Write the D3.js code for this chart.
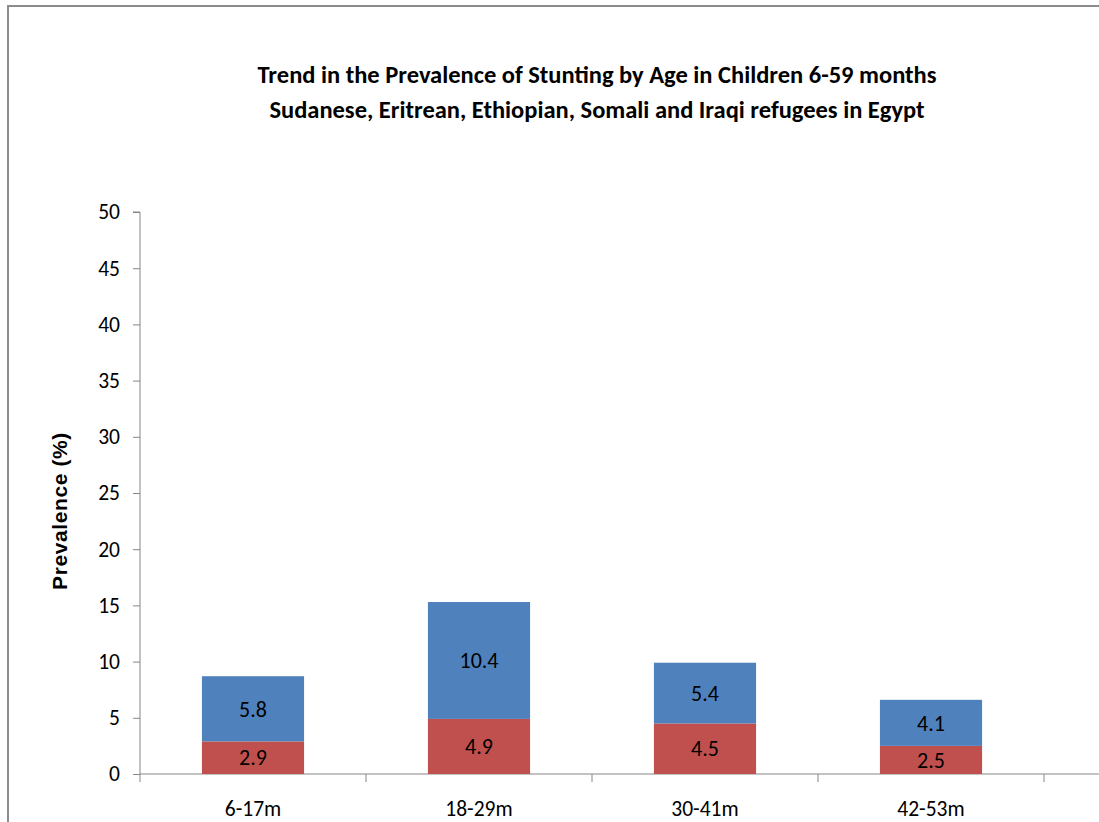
<!DOCTYPE html>
<html>
<head>
<meta charset="utf-8">
<script src="https://cdn.jsdelivr.net/npm/d3@7"></script>
<style>
  body { margin: 0; background: #fff; }
  svg { display: block; }
  text { font-family: Carlito, "Liberation Sans Narrow", "Open Sans", sans-serif; fill: #000; }
</style>
</head>
<body>
<div id="chart"></div>
<script>
// chart data
var categories = ['6-17m', '18-29m', '30-41m', '42-53m', '54-59m'];
var lowerValues = [2.9, 4.9, 4.5, 2.5];
var upperValues = [5.8, 10.4, 5.4, 4.1];
var yTicks = [0, 5, 10, 15, 20, 25, 30, 35, 40, 45, 50];
var titleLines = ['Trend in the Prevalence of Stunting by Age in Children 6-59 months',
  'Sudanese, Eritrean, Ethiopian, Somali and Iraqi refugees in Egypt'];

var width = 1099, height = 822;
var lowerColor = '#C0504D', upperColor = '#4F81BD', axisColor = '#868686';

var svg = d3.select('#chart').append('svg').attr('width', width).attr('height', height);

// outer chart border (cut off at the right and bottom)
svg.append('rect')
  .attr('x', 8).attr('y', 6)
  .attr('width', 1200).attr('height', 1000)
  .attr('fill', 'none')
  .attr('stroke', '#8c8c8c')
  .attr('stroke-width', 2);

var x = d3.scaleBand().domain(categories).range([140, 140 + 226 * categories.length]).paddingInner(0).paddingOuter(0);
var y = d3.scaleLinear().domain([0, 50]).range([774, 212]);
var barW = x.bandwidth() * 0.452;

// title
svg.selectAll('.title').data(titleLines).enter().append('text')
  .attr('class', 'title')
  .attr('x', 597)
  .attr('y', function(d, i) { return 83 + i * 35; })
  .attr('text-anchor', 'middle')
  .style('font-weight', 'bold')
  .style('font-size', '24.5px')
  .text(function(d) { return d; });

// y axis
var yAxis = svg.append('g').attr('transform', 'translate(140,0)')
  .call(d3.axisLeft(y).tickValues(yTicks).tickSize(7).tickPadding(13));
yAxis.select('.domain').attr('stroke', axisColor).attr('d', 'M-7,' + y(50) + 'H0V' + y(0));
yAxis.selectAll('line').attr('stroke', axisColor);
yAxis.selectAll('text').style('font-size', '21.5px').style('font-family', null);

// x axis with ticks on category boundaries
var xg = svg.append('g').attr('transform', 'translate(0,774)');
xg.append('line').attr('x1', 140).attr('x2', width).attr('y1', 0).attr('y2', 0).attr('stroke', axisColor);
xg.selectAll('.bt').data(categories).enter().append('line')
  .attr('x1', function(d) { return x(d); }).attr('x2', function(d) { return x(d); })
  .attr('y1', 0).attr('y2', 8).attr('stroke', axisColor);
xg.selectAll('.xl').data(categories.slice(0, lowerValues.length)).enter().append('text')
  .attr('x', function(d) { return x(d) + x.bandwidth() / 2; })
  .attr('y', 42)
  .attr('text-anchor', 'middle')
  .style('font-size', '21.5px')
  .text(function(d) { return d; });

// y axis label
svg.append('text')
  .attr('transform', 'translate(67,511) rotate(-90)')
  .attr('text-anchor', 'middle')
  .style('font-family', '"Liberation Sans", Arial, sans-serif')
  .style('font-weight', 'bold')
  .style('font-size', '21px')
  .style('letter-spacing', '0.6px')
  .text('Prevalence (%)');

// stacked bars
var rows = lowerValues.map(function(v, i) {
  return { cat: categories[i], lower: v, upper: upperValues[i] };
});

var bars = svg.append('g');
rows.forEach(function(r) {
  var cx = x(r.cat) + x.bandwidth() / 2;
  var segs = [
    { y0: 0, y1: r.lower, v: r.lower, c: lowerColor },
    { y0: r.lower, y1: r.lower + r.upper, v: r.upper, c: upperColor }
  ];
  segs.forEach(function(s) {
    bars.append('rect')
      .attr('x', cx - barW / 2)
      .attr('y', y(s.y1))
      .attr('width', barW)
      .attr('height', y(s.y0) - y(s.y1))
      .attr('fill', s.c);
    bars.append('text')
      .attr('x', cx)
      .attr('y', (y(s.y0) + y(s.y1)) / 2)
      .attr('dy', '0.35em')
      .attr('text-anchor', 'middle')
      .style('font-size', '22px')
      .text(s.v.toFixed(1));
  });
});
</script>
</body>
</html>
